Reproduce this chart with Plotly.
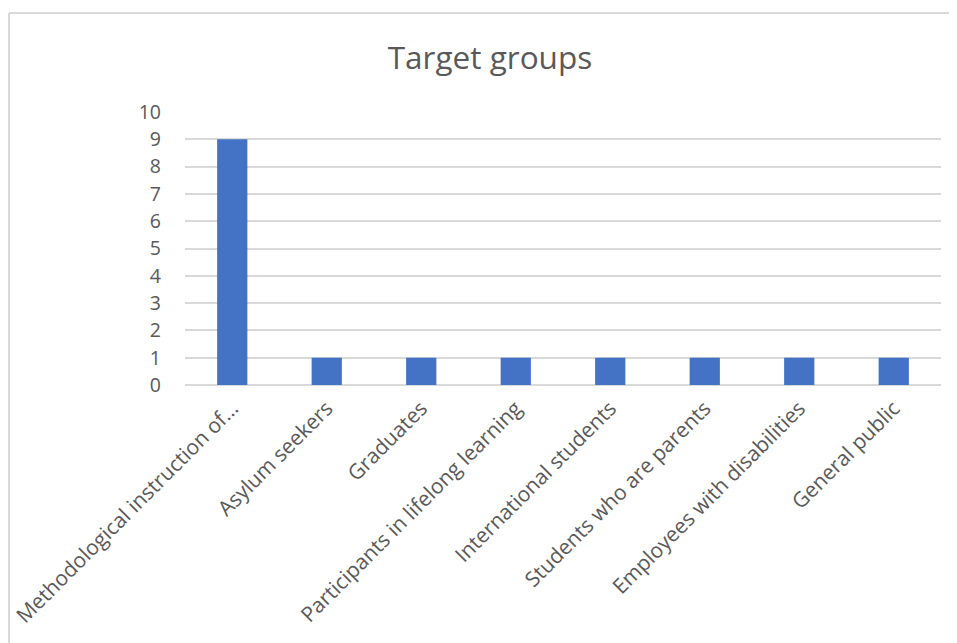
import plotly.graph_objects as go

categories = [
    "Methodological instruction of…",
    "Asylum seekers",
    "Graduates",
    "Participants in lifelong learning",
    "International students",
    "Students who are parents",
    "Employees with disabilities",
    "General public",
]
values = [9, 1, 1, 1, 1, 1, 1, 1]
y_ticks = list(range(0, 11))

# page body has an 8px margin; work in reference pixel coords shifted by OFF
OFF = 8
W, H = 957 - OFF, 643 - OFF
L = 185 - OFF
T = 112 - OFF
R = W - (941 - OFF)
B = H - (385 - OFF)
pw, ph = W - L - R, H - T - B

def px_x(p):
    return (p - OFF - L) / pw

def px_y(p):
    return (H - B - (p - OFF)) / ph

fig = go.Figure(
    go.Bar(
        x=categories,
        y=values,
        marker=dict(color="#4472C4", line=dict(width=0)),
        width=0.32,
    )
)

font_family = "'Open Sans', Lato, sans-serif"

fig.update_layout(
    width=W,
    height=H,
    margin=dict(l=L, r=R, t=T, b=B, autoexpand=False),
    paper_bgcolor="white",
    plot_bgcolor="white",
    showlegend=False,
    title=dict(
        text="Target groups",
        x=px_x(490),
        xref="paper",
        xanchor="center",
        y=1 - (58 - OFF) / H,
        yanchor="middle",
        font=dict(family=font_family, size=31.5, color="#595959"),
    ),
    xaxis=dict(
        tickangle=-45,
        tickfont=dict(family=font_family, size=21, color="#595959"),
        showgrid=False,
        showline=False,
        ticks="",
        ticklabelstandoff=6,
        automargin=False,
    ),
    yaxis=dict(
        range=[0, 10],
        tickvals=y_ticks,
        tickfont=dict(family=font_family, size=19.5, color="#595959"),
        showgrid=True,
        gridcolor="#d9d9d9",
        gridwidth=1.5,
        zeroline=True,
        zerolinecolor="#d9d9d9",
        zerolinewidth=1.5,
        showline=False,
        ticks="",
        ticklabelstandoff=23,
        automargin=False,
    ),
    shapes=[
        dict(type="line", xref="paper", yref="paper",
             x0=px_x(9), x1=px_x(970), y0=px_y(13), y1=px_y(13),
             line=dict(color="#d9d9d9", width=2)),
        dict(type="line", xref="paper", yref="paper",
             x0=px_x(9), x1=px_x(9), y0=px_y(13), y1=px_y(660),
             line=dict(color="#d9d9d9", width=2)),
    ],
)

fig.write_html("out.html")
